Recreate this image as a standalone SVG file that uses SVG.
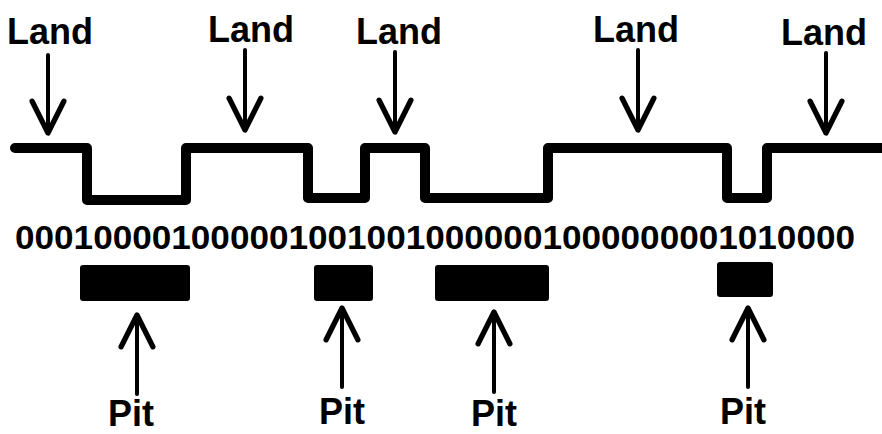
<svg xmlns="http://www.w3.org/2000/svg" width="882" height="434" viewBox="0 0 882 434">
<style>
text{font-family:"Liberation Sans",Arial,sans-serif;font-weight:bold;fill:#000}
.lbl{font-size:36px;text-anchor:middle}
.bits{font-size:34px}
.arr{stroke:#000;stroke-width:4;fill:none;stroke-linecap:round;marker-end:url(#head)}
.wave{stroke:#000;stroke-width:10;fill:none;stroke-linejoin:round;stroke-linecap:round}
.pit{fill:#000}
</style>
<defs>
<marker id="head" markerUnits="userSpaceOnUse" markerWidth="40" markerHeight="40" viewBox="-30 -16 34 32" refX="0" refY="0" orient="auto" overflow="visible">
<path d="M-27,-13.5 L0,0 L-27,13.5" fill="none" stroke="#000" stroke-width="4.5" stroke-linecap="round" stroke-linejoin="round"/>
</marker>
</defs>
<rect width="882" height="434" fill="#fff"/>
<g id="track">
<path class="wave" d="M15,148 H87 V200 H186 V148 H308 V198 H365 V148 H425 V198 H548 V148 H727 V198 H767 V148 H882"/>
</g>
<g id="bits">
<text class="bits" x="15" y="249" textLength="840" lengthAdjust="spacingAndGlyphs">0001000010000010010010000001000000001010000</text>
</g>
<g id="land1"><text class="lbl" x="50" y="44">Land</text></g>
<g id="land2"><text class="lbl" x="251" y="42">Land</text></g>
<g id="land3"><text class="lbl" x="399" y="44">Land</text></g>
<g id="land4"><text class="lbl" x="636" y="42">Land</text></g>
<g id="land5"><text class="lbl" x="824" y="45">Land</text></g>
<g id="pit1"><rect class="pit" x="80" y="265" width="110" height="36" rx="3"/><text class="lbl" x="131" y="426">Pit</text></g>
<g id="pit2"><rect class="pit" x="314" y="265" width="59" height="36" rx="3"/><text class="lbl" x="342" y="424">Pit</text></g>
<g id="pit3"><rect class="pit" x="435" y="265" width="114" height="36" rx="3"/><text class="lbl" x="494" y="426">Pit</text></g>
<g id="pit4"><rect class="pit" x="717" y="262" width="56" height="35" rx="3"/><text class="lbl" x="743" y="424">Pit</text></g>
<g id="connectors">
<line class="arr" x1="48" y1="55" x2="48" y2="133"/>
<line class="arr" x1="245" y1="50" x2="245" y2="130"/>
<line class="arr" x1="395" y1="52" x2="395" y2="132"/>
<line class="arr" x1="638" y1="50" x2="638" y2="130"/>
<line class="arr" x1="826" y1="53" x2="826" y2="133"/>
<line class="arr" x1="137" y1="394" x2="137" y2="315"/>
<line class="arr" x1="342" y1="387" x2="342" y2="308"/>
<line class="arr" x1="494" y1="392" x2="494" y2="312"/>
<line class="arr" x1="748" y1="387" x2="748" y2="308"/>
</g>
</svg>
